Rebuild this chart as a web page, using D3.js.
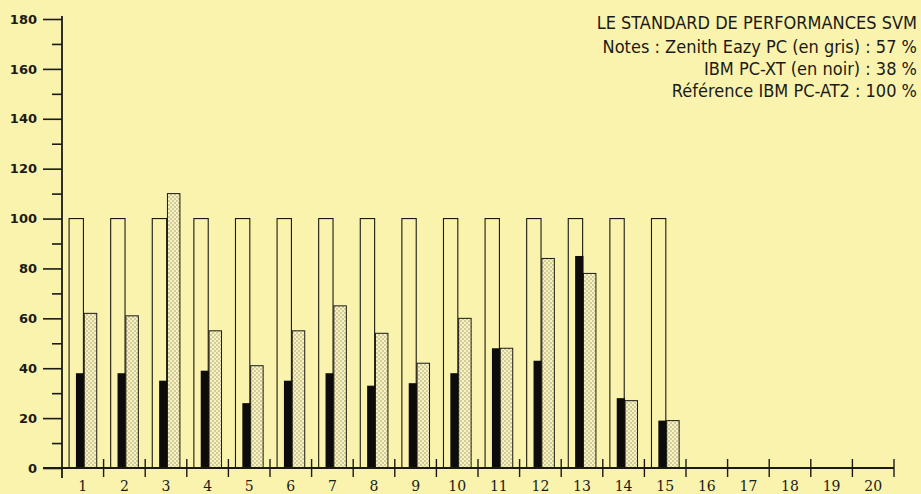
<!DOCTYPE html>
<html>
<head>
<meta charset="utf-8">
<script src="https://cdn.jsdelivr.net/npm/d3@7"></script>
<style>
  html, body { margin: 0; padding: 0; background: #f9f3ae; }
  svg { display: block; }
</style>
</head>
<body>
<svg id="chart" width="921" height="494"></svg>
<script>
// Test numbers 1..20 (only the first 15 were run)
const categories = d3.range(1, 21).map(String);
// Reference machine IBM PC-AT2 = 100 on every test
const reference = [100, 100, 100, 100, 100, 100, 100, 100, 100, 100, 100, 100, 100, 100, 100];
// IBM PC-XT (black bars)
const ibmXT = [38, 38, 35, 39, 26, 35, 38, 33, 34, 38, 48, 43, 85, 28, 19];
// Zenith Eazy PC (dotted grey bars)
const zenith = [62, 61, 110, 55, 41, 55, 65, 54, 42, 60, 48, 84, 78, 27, 19];
const yTicks = d3.range(0, 181, 20);
const yMinor = d3.range(10, 180, 20);
const titleLines = [
  "LE STANDARD DE PERFORMANCES SVM",
  "Notes : Zenith Eazy PC (en gris) : 57 %",
  "IBM PC-XT (en noir) : 38 %",
  "Référence IBM PC-AT2 : 100 %"
];

const svg = d3.select("#chart");
const ink = "#1b1a16";
const paper = "#f9f3ae";

const x = d3.scaleBand().domain(categories).range([62, 894]).padding(0);
const y = d3.scaleLinear().domain([0, 180]).range([468, 19]);
const bw = x.bandwidth();

// Dotted screen used for the Zenith bars
const defs = svg.append("defs");
const pat = defs.append("pattern")
  .attr("id", "dots").attr("patternUnits", "userSpaceOnUse")
  .attr("width", 4).attr("height", 4);
pat.append("rect").attr("width", 4).attr("height", 4).attr("fill", "#f8f2bc");
pat.append("circle").attr("cx", 1).attr("cy", 1).attr("r", 0.65).attr("fill", "#8a866c");
pat.append("circle").attr("cx", 3).attr("cy", 3).attr("r", 0.65).attr("fill", "#8a866c");

const bars = svg.append("g");

// Reference bars (outline only)
bars.selectAll("rect.ref").data(reference).join("rect")
  .attr("class", "ref")
  .attr("x", (d, i) => x(categories[i]) + bw * 0.17)
  .attr("width", bw * 0.345)
  .attr("y", d => y(d))
  .attr("height", d => y(0) - y(d))
  .attr("fill", paper).attr("stroke", ink).attr("stroke-width", 1.1);

// IBM PC-XT bars
bars.selectAll("rect.xt").data(ibmXT).join("rect")
  .attr("class", "xt")
  .attr("x", (d, i) => x(categories[i]) + bw * 0.335)
  .attr("width", bw * 0.2)
  .attr("y", d => y(d))
  .attr("height", d => y(0) - y(d))
  .attr("fill", "#0d0c0a");

// Zenith bars
bars.selectAll("rect.zen").data(zenith).join("rect")
  .attr("class", "zen")
  .attr("x", (d, i) => x(categories[i]) + bw * 0.535)
  .attr("width", bw * 0.3)
  .attr("y", d => y(d))
  .attr("height", d => y(0) - y(d))
  .attr("fill", "url(#dots)").attr("stroke", ink).attr("stroke-width", 1);

// Y axis: long ticks every 20 with labels, short ticks in between
const yAxis = svg.append("g").attr("transform", "translate(62,0)")
  .call(d3.axisLeft(y).tickValues(yTicks).tickSize(19).tickPadding(6).tickFormat(d3.format("d")));
yAxis.select(".domain").remove();
yAxis.selectAll(".tick line").attr("stroke", ink).attr("stroke-width", 1.6);
yAxis.selectAll(".tick text")
  .attr("fill", ink)
  .style("font-family", "'DejaVu Sans', sans-serif")
  .style("font-weight", "bold")
  .style("font-size", "13px");

const yMinorAxis = svg.append("g").attr("transform", "translate(62,0)")
  .call(d3.axisLeft(y).tickValues(yMinor).tickSize(10).tickFormat(""));
yMinorAxis.select(".domain").remove();
yMinorAxis.selectAll(".tick line").attr("stroke", ink).attr("stroke-width", 1.6);

svg.append("line")
  .attr("x1", 62).attr("x2", 62).attr("y1", 16).attr("y2", 478)
  .attr("stroke", ink).attr("stroke-width", 1.8);

// X axis: baseline, crossing ticks at band edges, labels centred in bands
svg.append("line")
  .attr("x1", 43).attr("x2", 894).attr("y1", y(0)).attr("y2", y(0))
  .attr("stroke", ink).attr("stroke-width", 1.8);

svg.append("g").selectAll("line").data(categories).join("line")
  .attr("x1", d => x(d) + bw).attr("x2", d => x(d) + bw)
  .attr("y1", y(0) - 9).attr("y2", y(0) + 9)
  .attr("stroke", ink).attr("stroke-width", 1.4);

svg.append("g").selectAll("text").data(categories).join("text")
  .attr("x", d => x(d) + bw / 2)
  .attr("y", 491)
  .attr("text-anchor", "middle")
  .attr("fill", ink)
  .style("font-family", "'DejaVu Serif', serif")
  .style("font-size", "14px")
  .text(d => d);

// Title block, right aligned, set in a tall narrow face
const titleRight = 917;
const title = svg.append("g");
const titleText = title.selectAll("text").data(titleLines).join("text")
  .attr("x", 0)
  .attr("y", (d, i) => [29, 53, 75, 97][i])
  .attr("text-anchor", "end")
  .attr("fill", ink)
  .style("font-family", "'DejaVu Sans Condensed', 'DejaVu Sans', sans-serif")
  .style("font-stretch", "condensed")
  .style("font-size", "18px")
  .text(d => d);
// squeeze horizontally so the heading line spans 339px
const natural = titleText.nodes()[0].getComputedTextLength();
const sx = Math.min(1, 339 / natural);
title.attr("transform", `translate(${titleRight},0) scale(${sx},1)`);
</script>
</body>
</html>
